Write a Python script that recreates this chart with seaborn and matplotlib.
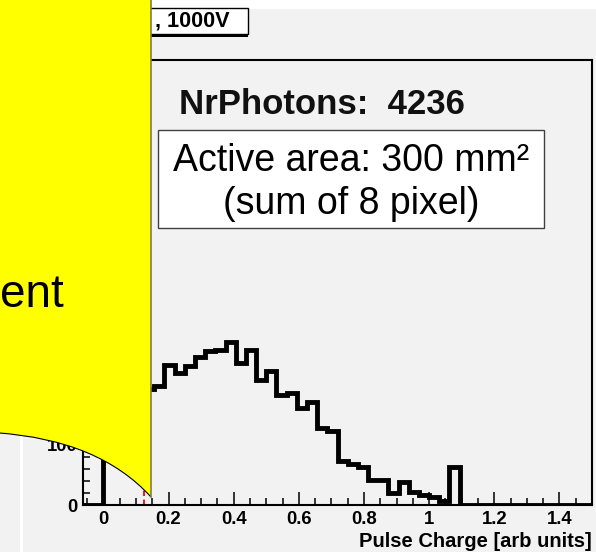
import numpy as np
import pandas as pd
import matplotlib
matplotlib.use("Agg")
import matplotlib.pyplot as plt
from matplotlib.path import Path
from matplotlib.patches import PathPatch, Rectangle
from matplotlib.ticker import MultipleLocator
import seaborn as sns

# ---------------- data ----------------
bin_width = 0.03125
first_edge = -0.0625
counts = [0, 0, 706, 130, 150, 175, 193, 199, 234, 220, 231, 247, 257, 258,
          271, 236, 258, 208, 223, 183, 186, 162, 172, 128, 123, 73, 69, 63,
          42, 42, 20, 39, 22, 17, 14, 7, 64,
          0, 0, 0, 0, 0, 0, 0, 0, 0, 0, 0, 0, 0]
threshold = 0.125
x_ticks = [0, 0.2, 0.4, 0.6, 0.8, 1.0, 1.2, 1.4]
x_tick_labels = ["0", "0.2", "0.4", "0.6", "0.8", "1", "1.2", "1.4"]
y_ticks = [0, 100, 200, 300, 400, 500, 600, 700]
# labels above 100 lie completely under the yellow callout in the reference
y_tick_labels = ["0", "100", "", "", "", "", "", ""]
x_label = "Pulse Charge [arb units]"
title_text = ", 1000V"
stats_text = "NrPhotons:  4236"
note_lines = ["Active area: 300 mm\u00b2", "(sum of 8 pixel)"]
callout_text = "ent"

# ---------------- figure ----------------
plt.rcParams['font.family'] = ['Liberation Sans', 'DejaVu Sans']
W, H = 596, 552
BG = '#f2f2f2'
fig = plt.figure(figsize=(W / 100, H / 100), dpi=100)
fig.patch.set_facecolor(BG)

ax = fig.add_axes([83 / W, 1 - 505 / H, (592 - 83) / W, (505 - 60) / H])
ax.set_facecolor(BG)

edges = (first_edge + bin_width * np.arange(len(counts) + 1)).tolist()
centers = [e + bin_width / 2 for e in edges[:-1]]
df = pd.DataFrame({'charge': centers, 'n': counts})
sns.histplot(data=df, x='charge', weights='n', bins=edges, element='step',
             fill=False, color='black', linewidth=3.5, ax=ax, zorder=3)
for ln in ax.lines:
    ln.set_solid_joinstyle('miter')
    ln.set_solid_capstyle('projecting')

ax.axvline(threshold, color='red', ls=(0, (3, 2)), lw=1.3, zorder=2)

ax.set_xlim(first_edge, 1.5)
ax.set_ylim(0, 741.3)
ax.set_xticks(x_ticks)
ax.set_xticklabels(x_tick_labels)
ax.set_yticks(y_ticks)
ax.set_yticklabels(y_tick_labels)
ax.xaxis.set_minor_locator(MultipleLocator(0.05))
ax.yaxis.set_minor_locator(MultipleLocator(20))
ax.tick_params(which='major', direction='in', length=9.5, width=1.1,
               top=False, right=False, pad=4, labelsize=13.3, colors='black')
ax.tick_params(which='minor', direction='in', length=4.7, width=1.1,
               top=False, right=False)
for lab in ax.get_xticklabels() + ax.get_yticklabels():
    lab.set_fontweight('bold')
ax.set_ylabel('')
ax.set_xlabel(x_label, loc='right', fontsize=14.5, fontweight='bold', labelpad=3.5)
for s in ax.spines.values():
    s.set_linewidth(1.5)
    s.set_color('black')

# ---------------- overlay (pixel coordinates) ----------------
ov = fig.add_axes([0, 0, 1, 1], zorder=10)
ov.set_xlim(0, W)
ov.set_ylim(H, 0)
ov.axis('off')
ov.patch.set_alpha(0)

ov.add_patch(Rectangle((0, 0), W, 8.5, fc='white', ec='none', zorder=0))
ov.add_patch(Rectangle((20, 430), 3, 130, fc='white', ec='none', zorder=0))

# title box with shadow
ov.add_patch(Rectangle((143, 10.5), 105, 26, fc='black', ec='none', zorder=1))
ov.add_patch(Rectangle((140, 7.5), 108, 26, fc='white', ec='black', lw=1, zorder=1.5))
ov.text(229.5, 21, title_text, ha='right', va='center', fontsize=15.6,
        fontweight='bold', zorder=2)

# stats text
ov.text(322, 114, stats_text, ha='center', va='baseline', fontsize=25,
        fontweight='bold', color='#111111', zorder=2)

# note box
ov.add_patch(Rectangle((158, 130), 386, 98, fc='white', ec='#404040', lw=1, zorder=1))
ov.text(351, 171, note_lines[0], ha='center', va='baseline', fontsize=27, zorder=2)
ov.text(351, 214, note_lines[1], ha='center', va='baseline', fontsize=27, zorder=2)

# yellow callout
verts = [(-3, -3), (151, -3), (151, 497), (99.1, 439.9), (-3, 432.8), (-3, -3)]
codes = [Path.MOVETO, Path.LINETO, Path.LINETO, Path.CURVE3, Path.CURVE3, Path.CLOSEPOLY]
ov.add_patch(PathPatch(Path(verts, codes), fc='#ffff00', ec='none', zorder=5))
curve = Path([(151, 497), (99.1, 439.9), (-3, 432.8)], [Path.MOVETO, Path.CURVE3, Path.CURVE3])
ov.add_patch(PathPatch(curve, fc='none', ec='black', lw=0.8, zorder=6))
ov.plot([151, 151], [0, 497], color='#808040', lw=1.2, zorder=6)
ov.text(0.5, 306.7, callout_text, ha='left', va='baseline', fontsize=33, zorder=7)

fig.savefig('out.png', dpi=100, facecolor=fig.get_facecolor())
